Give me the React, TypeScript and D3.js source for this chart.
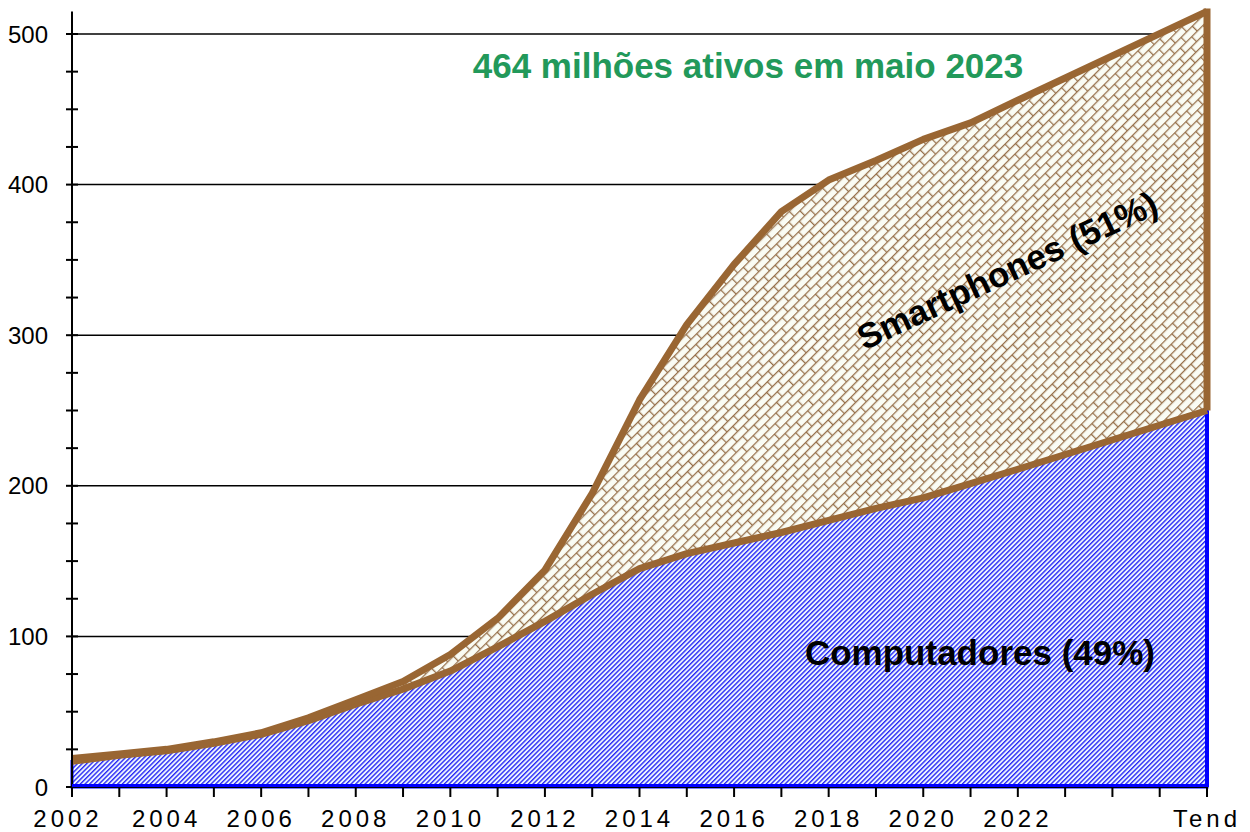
import React from "react";
import * as d3 from "d3";

// Axis slots (yearly ticks) and the categories that carry data
const axisSlots = [
  "2002","2003","2004","2005","2006","2007","2008","2009","2010","2011","2012",
  "2013","2014","2015","2016","2017","2018","2019","2020","2021","2022","2023",
  "2024","2025","Tend",
];
const labeledSlots = [
  "2002","2004","2006","2008","2010","2012","2014","2016","2018","2020","2022","Tend",
];
const categories = [
  "2002","2003","2004","2005","2006","2007","2008","2009","2010","2011","2012",
  "2013","2014","2015","2016","2017","2018","2019","2020","2021","2022","Tend",
];
// Computadores (bottom layer), millions
const computadores = [
  17, 21, 24, 29, 35, 44, 55, 65, 77, 93, 110,
  128, 145, 155, 162, 169, 177, 185, 192, 201.5, 211, 250,
];
// Total (computadores + smartphones), millions
const total = [
  19, 22, 25, 30, 36, 46, 58, 70, 88, 112, 144,
  195, 257, 307, 347, 382, 403, 416, 430, 441, 456, 515,
];
const yMajorTicks = [0, 100, 200, 300, 400, 500];
const yMinorTicks = d3.range(0, 501, 25);

const title = "464 milhões ativos em maio 2023";
const labelSmart = "Smartphones (51%)";
const labelComp = "Computadores (49%)";

const FONT = "'Liberation Sans', Arial, Helvetica, sans-serif";
const BROWN = "#996633";

export default function App() {
  const W = 1250, H = 832;
  const left = 72, right = 1207;
  const x = d3.scalePoint<string>().domain(axisSlots).range([left, right]);
  const y = d3.scaleLinear().domain([0, 500]).range([787, 34]);

  const rows = categories.map((c, i) => ({ c, comp: computadores[i], tot: total[i] }));

  const areaComp = d3
    .area<any>()
    .x((d) => x(d.c)!)
    .y0(() => y(0))
    .y1((d) => y(d.comp))(rows)!;
  const areaSmart = d3
    .area<any>()
    .x((d) => x(d.c)!)
    .y0((d) => y(d.comp))
    .y1((d) => y(d.tot))(rows)!;
  const lineTot = d3.line<any>().x((d) => x(d.c)!).y((d) => y(d.tot))(rows)!;
  const lineComp = d3.line<any>().x((d) => x(d.c)!).y((d) => y(d.comp))(rows)!;
  const last = rows[rows.length - 1];

  return (
    <svg
      width={W}
      height={H}
      style={{ position: "absolute", left: 0, top: 0, background: "#fff" }}
      fontFamily={FONT}
    >
      <defs>
        <pattern
          id="blueHatch"
          patternUnits="userSpaceOnUse"
          width={3.3}
          height={10}
          patternTransform="rotate(45)"
        >
          <rect width={3.3} height={10} fill="#eef6ff" />
          <rect width={1.4} height={10} fill="#2a2af5" />
        </pattern>
        <pattern
          id="brick"
          patternUnits="userSpaceOnUse"
          width={16}
          height={14}
          patternTransform="rotate(-45)"
        >
          <rect width={16} height={14} fill="#fafcf4" />
          <line x1={0} y1={0.6} x2={16} y2={0.6} stroke="#96704a" strokeWidth={1.3} />
          <line x1={0} y1={7.6} x2={16} y2={7.6} stroke="#96704a" strokeWidth={1.3} />
          <line x1={0.6} y1={0} x2={0.6} y2={7.6} stroke="#96704a" strokeWidth={1.3} />
          <line x1={8.6} y1={7.6} x2={8.6} y2={14} stroke="#96704a" strokeWidth={1.3} />
        </pattern>
      </defs>

      {/* gridlines */}
      {yMajorTicks
        .filter((v) => v > 0)
        .map((v) => (
          <line key={"g" + v} x1={left} x2={right} y1={y(v)} y2={y(v)} stroke="#000" strokeWidth={1.5} />
        ))}

      {/* areas */}
      <path d={areaComp} fill="url(#blueHatch)" stroke="#0000ff" strokeWidth={3} />
      <path d={areaSmart} fill="url(#brick)" stroke="none" />

      {/* right edge lines */}
      <line
        x1={x(last.c)!}
        x2={x(last.c)!}
        y1={y(0)}
        y2={y(last.comp)}
        stroke="#0000ff"
        strokeWidth={4}
      />
      <line
        x1={x(last.c)!}
        x2={x(last.c)!}
        y1={y(last.tot) - 3}
        y2={y(last.comp)}
        stroke={BROWN}
        strokeWidth={7}
      />
      <path d={lineComp} fill="none" stroke={BROWN} strokeWidth={7} strokeLinejoin="round" />
      <path d={lineTot} fill="none" stroke={BROWN} strokeWidth={7} strokeLinejoin="round" />

      {/* y axis */}
      <line x1={left} x2={left} y1={y(515)} y2={y(0)} stroke="#000" strokeWidth={2} />
      {yMinorTicks.map((v) => (
        <line key={"t" + v} x1={left - 6} x2={left + 6} y1={y(v)} y2={y(v)} stroke="#000" strokeWidth={2} />
      ))}
      {yMajorTicks.map((v) => (
        <text key={"yl" + v} x={48} y={y(v)} dy="0.36em" textAnchor="end" fontSize={24} fill="#000">
          {v}
        </text>
      ))}

      {/* x axis */}
      <line x1={left} x2={right} y1={y(0)} y2={y(0)} stroke="#000" strokeWidth={2} />
      <line x1={left} x2={right} y1={y(0) - 1.5} y2={y(0) - 1.5} stroke="#0000ff" strokeWidth={3} />
      {axisSlots.map((s) => (
        <line key={"xt" + s} x1={x(s)!} x2={x(s)!} y1={y(0)} y2={y(0) + 10} stroke="#000" strokeWidth={2} />
      ))}
      {labeledSlots.map((s) => (
        <text
          key={"xl" + s}
          x={x(s)! - (s === "2002" ? 4 : 0)}
          y={827}
          textAnchor="middle"
          fontSize={24}
          letterSpacing={4}
          fill="#000"
        >
          {s}
        </text>
      ))}

      {/* annotations */}
      <text x={748} y={78} textAnchor="middle" fontSize={35} fontWeight="bold" fill="#22995a">
        {title}
      </text>
      <text
        transform="translate(1007,270) rotate(-25)"
        textAnchor="middle"
        dy="0.36em"
        fontSize={35}
        fontWeight="bold"
        fill="#000"
      >
        {labelSmart}
      </text>
      <text x={980} y={665} textAnchor="middle" fontSize={35} fontWeight="bold" fill="#000">
        {labelComp}
      </text>
    </svg>
  );
}
